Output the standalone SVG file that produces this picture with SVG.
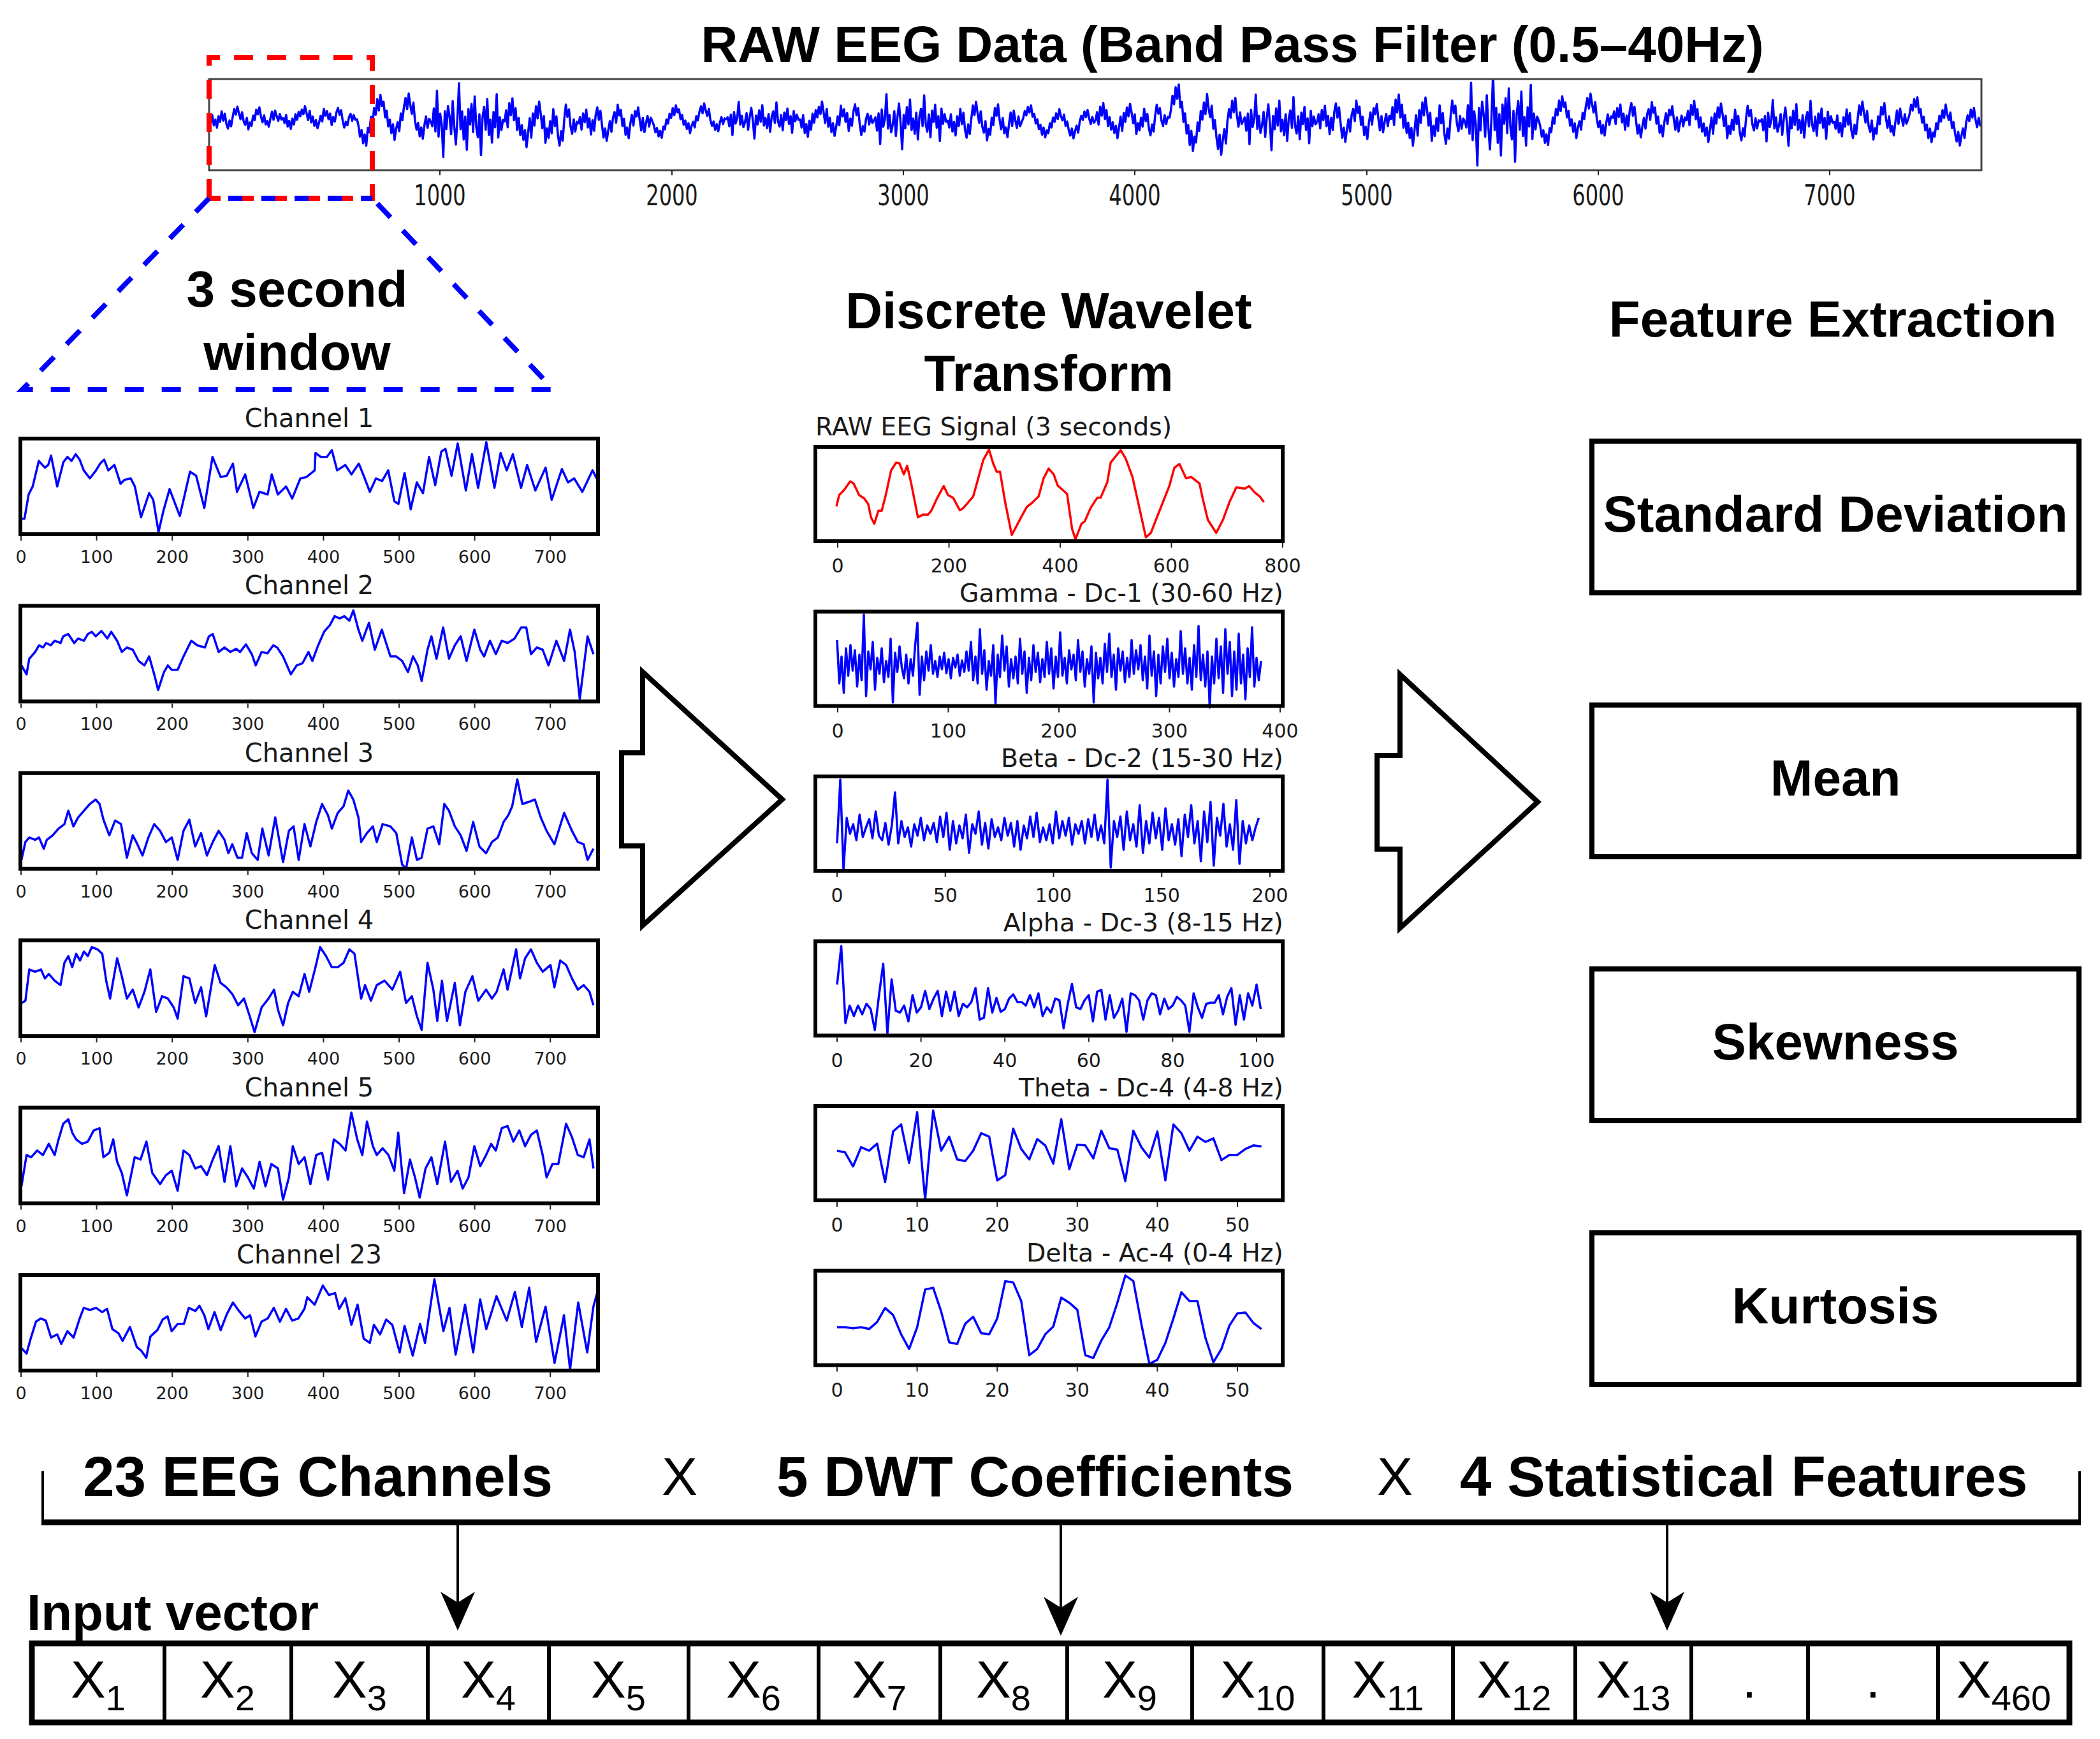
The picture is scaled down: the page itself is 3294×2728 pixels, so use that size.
<svg xmlns="http://www.w3.org/2000/svg" xmlns:xlink="http://www.w3.org/1999/xlink" width="3294" height="2728" viewBox="0 0 3294 2728">
<style>
.b{font-family:"Liberation Sans",Arial,sans-serif;font-weight:bold;fill:#000}
.r{font-family:"Liberation Sans",Arial,sans-serif;font-weight:normal;fill:#000}
.m{font-family:"DejaVu Sans",sans-serif;fill:#1a1a1a}
.frame{fill:none;stroke:#000;stroke-width:6}
.sig{fill:none;stroke:#0000ff;stroke-width:3.5;stroke-linejoin:round;vector-effect:non-scaling-stroke}
.tk{stroke:#222;stroke-width:2}
.fbox{fill:#fff;stroke:#000;stroke-width:8}
.big{fill:#fff;stroke:#000;stroke-width:8;stroke-linejoin:miter}
</style>
<defs>
<clipPath id="topclip"><rect x="329" y="125" width="2778" height="141"/></clipPath>
<path id="s1" class="sig" d="M0,0 L1,4 2,-3 3,6 4,1 5,8 6,-2 7,3 8,-6 9,2 10,-4 11,5 12,9 13,2 14,7 15,-1 16,-8 17,-3 18,-10 19,-4 20,1 21,-5 22,3 23,6 24,0 25,10 26,4 27,7 28,-2 29,2 30,-7 31,-3 32,-9 33,-1 34,4 35,-2 36,6 37,3 38,8 39,1 40,-5 41,2 42,-6 43,-1 44,3 45,-3 46,2 47,0"/>
<path id="s2" class="sig" d="M0,0 L1,-5 2,2 3,-8 4,-3 5,-10 6,-1 7,-6 8,3 9,-2 10,5 11,1 12,7 13,3 14,10 15,4 16,-2 17,6 18,-4 19,1 20,-7 21,-2 22,-9 23,-4 24,2 25,-3 26,8 27,2 28,6 29,-1 30,4 31,-6 32,1 33,-3 34,5 35,9 36,3 37,7 38,-2 39,-8 40,-3 41,-6 42,1 43,4 44,-2 45,3 46,-1 47,0"/>
<path id="s3" class="sig" d="M0,0 L1,3 2,8 3,5 4,11 5,7 6,12 7,4 8,6 9,-1 10,2 11,-5 12,-2 13,-9 14,-4 15,-11 16,-6 17,-8 18,-1 19,-4 20,3 21,0 22,6 23,2 24,9 25,4 26,1 27,5 28,-3 29,0 30,-6 31,-10 32,-5 33,-12 34,-7 35,-3 36,-8 37,0 38,4 39,1 40,7 41,3 42,8 43,2 44,-2 45,3 46,-1 47,0"/>
<path id="s4" class="sig" d="M0,0 L1,-2 2,5 3,-4 4,12 5,-6 6,3 7,-1 8,-14 9,4 10,-3 11,6 12,2 13,-5 14,8 15,-2 16,-9 17,1 18,15 19,-3 20,4 21,-7 22,2 23,-11 24,5 25,-1 26,7 27,-4 28,10 29,-2 30,-6 31,3 32,-13 33,2 34,6 35,-3 36,9 37,-5 38,1 39,-8 40,4 41,-2 42,11 43,-6 44,2 45,-3 46,1 47,0"/>
<rect id="chFrame" class="frame" x="32" y="3" width="906" height="150"/>
<g id="chTicks">
<path class="tk" d="M33,0v7M151.6,0v7M270.2,0v7M388.8,0v7M507.4,0v7M626,0v7M744.6,0v7M863.2,0v7"/>
<g class="m" font-size="27" text-anchor="middle">
<text x="33" y="42">0</text><text x="151.6" y="42">100</text><text x="270.2" y="42">200</text><text x="388.8" y="42">300</text><text x="507.4" y="42">400</text><text x="626" y="42">500</text><text x="744.6" y="42">600</text><text x="863.2" y="42">700</text>
</g>
</g>
<marker id="arr" markerUnits="userSpaceOnUse" viewBox="0 -27 61 54" refX="55" refY="0" markerWidth="61" markerHeight="54" orient="auto">
<path d="M0,-27 L61,0 L0,27 L17,0 Z" fill="#000"/>
</marker>
</defs>
<rect width="3294" height="2728" fill="#fff"/>

<g id="raw-eeg-plot">
<text class="b" x="1933" y="97" font-size="80" text-anchor="middle">RAW EEG Data (Band Pass Filter (0.5–40Hz)</text>
<g clip-path="url(#topclip)">
<use href="#s1" transform="matrix(2.465,-0.0426,0,1.8,328,186)"/>
<use href="#s2" transform="matrix(2.465,0.0426,0,-1.8,443.86,184)"/>
<use href="#s3" transform="matrix(2.465,0.0851,0,3.5,559.72,186)"/>
<use href="#s4" transform="matrix(2.465,0.0426,0,-4,675.58,190)"/>
<use href="#s2" transform="matrix(2.465,0.0638,0,3.8,791.44,192)"/>
<use href="#s1" transform="matrix(2.465,-0.1064,0,-2.8,907.3,195)"/>
<use href="#s3" transform="matrix(2.465,-0.0426,0,2.2,1023.16,190)"/>
<use href="#s4" transform="matrix(2.465,-0.0426,0,2,1139.02,188)"/>
<use href="#s2" transform="matrix(2.465,0.0851,0,-2.8,1254.88,186)"/>
<use href="#s4" transform="matrix(2.465,-0.0426,0,3,1370.74,190)"/>
<use href="#s1" transform="matrix(2.465,0.0851,0,3,1486.6,188)"/>
<use href="#s3" transform="matrix(2.465,-0.0426,0,-2.2,1602.46,192)"/>
<use href="#s2" transform="matrix(2.465,-0.0851,0,2.8,1718.32,190)"/>
<use href="#s3" transform="matrix(2.465,0.0851,0,-4.5,1834.18,186)"/>
<use href="#s4" transform="matrix(2.465,0.0426,0,3,1950.04,190)"/>
<use href="#s1" transform="matrix(2.465,-0.0851,0,-3.2,2065.9,192)"/>
<use href="#s2" transform="matrix(2.465,0.0426,0,4,2181.76,188)"/>
<use href="#s4" transform="matrix(2.465,-0.0426,0,-5,2297.62,190)"/>
<use href="#s3" transform="matrix(2.465,-0.0426,0,3.3,2413.48,188)"/>
<use href="#s1" transform="matrix(2.465,0.0851,0,-2.8,2529.34,186)"/>
<use href="#s2" transform="matrix(2.465,0.0426,0,3.2,2645.2,190)"/>
<use href="#s4" transform="matrix(2.465,-0.0426,0,2.5,2761.06,192)"/>
<use href="#s1" transform="matrix(2.465,-0.0426,0,3,2876.92,190)"/>
<use href="#s3" transform="matrix(2.465,0.1277,0,-3,2992.78,188)"/>
</g>
<rect x="328" y="124" width="2780" height="143" fill="none" stroke="#444" stroke-width="3"/>
<path class="tk" d="M690,267v8M1054,267v8M1417,267v8M1780,267v8M2144,267v8M2507,267v8M2870,267v8"/>
<g transform="translate(0,322) scale(1,1.37)" class="m" font-size="32" text-anchor="middle">
<text x="690" y="0">1000</text><text x="1054" y="0">2000</text><text x="1417" y="0">3000</text><text x="1780" y="0">4000</text><text x="2144" y="0">5000</text><text x="2507" y="0">6000</text><text x="2870" y="0">7000</text>
</g>
</g>

<g id="window-selection">
<path d="M328,311 V90 H584 V311 H328" fill="none" stroke="#ff0000" stroke-width="8" stroke-dasharray="30 22"/>
<path d="M328,311 L35,611 L868,611 L584,311" fill="none" stroke="#0000ff" stroke-width="8" stroke-dasharray="30 28"/>
<path d="M328,311 H584" fill="none" stroke="#0000ff" stroke-width="8" stroke-dasharray="22 30" stroke-dashoffset="-30"/>
<text class="b" x="466" y="481" font-size="80" text-anchor="middle">3 second</text>
<text class="b" x="466" y="580" font-size="80" text-anchor="middle">window</text>
</g>

<g id="channels">
<g id="channel-1">
<text class="m" x="485" y="670" font-size="40" text-anchor="middle">Channel 1</text>
<polyline class="sig" transform="translate(0,380) scale(0.641,0.421)" points="50,1030 60,1030 70,940 80,910 95,815 110,840 118,830 125,795 140,910 155,820 165,800 175,815 185,790 195,810 205,850 220,880 235,850 245,825 255,810 265,850 280,830 295,900 305,885 320,880 330,910 345,1025 365,935 375,960 388,1080 400,1000 415,920 440,1020 465,855 480,870 500,990 520,800 540,875 555,870 570,825 580,930 600,865 620,990 635,930 655,940 665,865 680,940 700,910 715,955 735,880 750,875 770,850 772,785 785,800 800,800 812,775 825,850 845,830 860,865 878,825 890,870 905,930 920,880 935,890 950,850 965,965 975,975 990,860 1005,995 1020,895 1035,935 1050,800 1065,905 1080,780 1090,770 1105,870 1120,750 1140,925 1155,790 1170,915 1190,745 1210,915 1225,785 1240,850 1255,790 1275,915 1290,830 1310,925 1335,840 1350,960 1375,845 1390,895 1405,880 1425,930 1450,850 1460,880"/>
<use href="#chFrame" y="685"/>
<use href="#chTicks" y="841"/>
</g>
<g id="channel-2">
<text class="m" x="485" y="932.4" font-size="40" text-anchor="middle">Channel 2</text>
<polyline class="sig" transform="translate(0,900) scale(0.6124,0.7015)" points="55,205 68,225 75,190 90,175 100,160 110,165 118,155 130,160 140,150 155,155 162,140 175,135 190,155 200,145 215,150 225,135 235,130 245,140 260,128 275,145 285,130 300,150 312,175 325,165 340,170 355,195 370,205 382,185 395,225 405,260 420,220 430,205 440,215 455,215 470,185 490,150 505,160 525,165 535,140 545,135 560,175 575,165 590,175 605,168 615,175 630,158 645,180 655,205 670,175 685,178 700,160 710,165 725,185 745,225 760,205 775,200 790,175 800,195 815,160 830,130 845,115 857,95 870,100 882,95 895,105 905,82 918,125 928,150 945,110 960,170 978,125 1000,185 1015,185 1030,195 1045,220 1058,185 1070,205 1080,240 1095,170 1105,140 1118,190 1135,120 1150,190 1165,160 1180,140 1195,195 1215,125 1230,170 1240,185 1255,150 1270,180 1285,150 1300,155 1318,145 1335,120 1348,120 1360,180 1375,165 1390,170 1405,205 1425,150 1445,195 1460,125 1472,175 1485,280 1505,140 1520,180"/>
<use href="#chFrame" y="947.4"/>
<use href="#chTicks" y="1103.4"/>
</g>
<g id="channel-3">
<text class="m" x="485" y="1194.8" font-size="40" text-anchor="middle">Channel 3</text>
<polyline class="sig" transform="translate(0,900) scale(0.6124,0.7015)" points="55,640 65,600 75,590 90,595 100,590 112,615 120,595 135,585 150,570 165,560 175,530 188,565 200,545 215,530 230,515 245,505 255,515 265,550 280,585 295,552 310,560 325,635 340,585 352,605 365,630 380,590 395,560 410,575 425,600 440,590 455,640 470,575 485,550 500,610 515,580 530,630 545,600 560,575 575,595 585,625 595,605 608,635 620,635 632,580 645,625 660,640 672,570 688,630 705,545 725,645 740,575 752,565 765,640 780,560 795,610 810,555 825,515 840,540 850,570 865,535 880,520 892,485 905,505 918,545 925,600 940,580 955,565 965,600 980,560 1000,565 1015,580 1030,650 1040,660 1055,590 1068,640 1080,635 1095,570 1110,565 1125,605 1138,515 1150,530 1165,565 1180,585 1195,620 1212,555 1228,610 1245,625 1260,600 1275,590 1290,555 1302,540 1312,520 1325,460 1338,515 1355,510 1370,505 1385,545 1400,575 1420,605 1445,535 1465,575 1480,600 1495,605 1505,640 1520,615"/>
<use href="#chFrame" y="1209.8"/>
<use href="#chTicks" y="1365.8"/>
</g>
<g id="channel-4">
<text class="m" x="485" y="1457.2" font-size="40" text-anchor="middle">Channel 4</text>
<polyline class="sig" transform="translate(0,900) scale(0.6124,0.7015)" points="55,960 65,955 75,885 90,890 105,885 115,905 125,895 140,910 155,920 165,870 175,855 185,880 195,850 205,865 215,845 225,855 235,835 250,840 262,850 272,910 282,950 300,860 312,900 325,950 340,930 355,970 370,935 385,885 400,980 415,945 430,950 445,970 455,995 470,900 485,905 500,960 515,925 528,990 550,875 565,915 580,925 595,940 610,965 625,950 638,985 652,1025 670,970 688,950 702,930 712,975 725,1010 738,960 750,935 765,945 780,895 792,935 808,880 820,835 835,855 850,880 865,880 880,870 895,840 908,850 925,950 935,920 950,955 965,920 985,910 1005,930 1025,890 1040,960 1055,945 1068,990 1080,1020 1095,870 1110,930 1120,1000 1132,910 1145,1000 1165,915 1178,1010 1192,935 1210,900 1225,955 1245,930 1260,950 1272,935 1290,885 1300,930 1310,890 1322,840 1332,905 1345,860 1360,840 1375,870 1390,890 1410,875 1420,925 1435,865 1450,875 1465,905 1480,930 1495,920 1510,935 1520,965"/>
<use href="#chFrame" y="1472.2"/>
<use href="#chTicks" y="1628.2"/>
</g>
<g id="channel-5">
<text class="m" x="485" y="1719.6" font-size="40" text-anchor="middle">Channel 5</text>
<polyline class="sig" transform="translate(0,900) scale(0.6124,0.7015)" points="55,1370 68,1300 80,1305 95,1290 110,1300 125,1275 140,1300 150,1265 162,1230 175,1220 185,1250 195,1265 210,1275 225,1270 240,1245 255,1240 265,1305 280,1295 290,1265 300,1315 312,1340 325,1390 345,1305 360,1310 375,1270 390,1340 410,1365 425,1345 440,1335 455,1380 470,1290 485,1300 500,1330 515,1325 530,1345 545,1310 560,1280 575,1360 590,1280 605,1370 620,1330 635,1350 650,1375 665,1315 680,1370 695,1320 712,1330 725,1400 740,1350 750,1280 765,1320 780,1305 795,1365 810,1300 825,1295 840,1355 855,1265 870,1275 885,1290 900,1205 915,1265 928,1300 940,1225 955,1280 965,1300 980,1285 995,1300 1010,1335 1020,1250 1035,1385 1050,1310 1063,1350 1075,1395 1090,1330 1105,1305 1120,1365 1140,1270 1155,1360 1172,1335 1185,1375 1200,1350 1215,1280 1230,1325 1245,1300 1258,1275 1270,1290 1285,1240 1300,1235 1315,1270 1330,1245 1345,1280 1360,1255 1375,1245 1390,1300 1400,1350 1415,1320 1430,1320 1450,1230 1465,1260 1480,1300 1495,1305 1510,1265 1520,1330"/>
<use href="#chFrame" y="1734.6"/>
<use href="#chTicks" y="1890.6"/>
</g>
<g id="channel-23">
<text class="m" x="485" y="1982" font-size="40" text-anchor="middle">Channel 23</text>
<polyline class="sig" transform="translate(0,1900) scale(0.641,0.3333)" points="50,640 65,670 75,600 88,520 100,505 112,515 125,595 140,580 150,625 165,565 180,595 195,505 205,455 220,465 235,455 250,475 262,460 275,555 290,575 300,610 318,545 335,640 345,655 358,690 368,590 385,560 398,510 410,495 420,565 435,530 450,530 462,455 478,470 488,445 500,490 510,555 525,475 540,560 555,485 570,430 585,470 600,505 612,490 625,590 640,520 655,505 670,455 685,520 700,460 715,515 730,505 745,460 752,405 770,440 790,350 805,395 820,385 830,460 845,410 860,535 875,440 890,600 905,620 915,535 930,580 945,510 960,535 978,665 990,540 1010,680 1028,530 1040,620 1063,320 1085,565 1100,455 1115,675 1138,440 1158,665 1175,415 1190,555 1215,400 1240,515 1260,380 1277,545 1295,360 1312,615 1335,450 1357,715 1380,490 1395,745 1415,430 1437,665 1452,450 1462,380"/>
<use href="#chFrame" y="1997"/>
<use href="#chTicks" y="2153"/>
</g>
</g>

<g id="dwt">
<text class="b" x="1645" y="515" font-size="80" text-anchor="middle">Discrete Wavelet</text>
<text class="b" x="1645" y="613" font-size="80" text-anchor="middle">Transform</text>
<g id="dwt-raw">
<text class="m" x="1279" y="683" font-size="39.5">RAW EEG Signal (3 seconds)</text>
<polyline fill="none" stroke="#ff0000" stroke-width="3.5" stroke-linejoin="round" vector-effect="non-scaling-stroke" transform="translate(1240,640) scale(0.5258,0.4082)" points="137,378 145,335 160,315 178,282 188,290 205,335 220,348 232,370 240,420 250,445 262,395 272,395 285,330 300,240 315,210 325,213 338,255 348,222 360,290 380,420 395,410 410,410 420,395 438,345 457,300 470,335 485,345 505,393 515,385 545,340 560,270 575,200 592,160 605,215 615,245 625,245 640,360 660,488 690,415 705,380 720,365 740,340 755,270 770,233 785,255 797,298 810,313 825,330 840,465 850,505 868,445 878,435 895,385 915,345 925,345 945,285 955,210 985,162 1000,195 1020,265 1040,380 1060,497 1075,480 1090,430 1110,365 1130,300 1145,230 1160,215 1180,270 1195,265 1205,275 1220,290 1230,350 1245,430 1270,480 1290,430 1310,360 1330,305 1355,310 1368,300 1385,325 1400,340 1412,362"/>
<rect class="frame" x="1279" y="701" width="733" height="148"/>
<path class="tk" d="M1314,852v7M1488.5,852v7M1663,852v7M1837.5,852v7M2012,852v7"/>
<g class="m" font-size="30" text-anchor="middle"><text x="1314" y="898">0</text><text x="1488.5" y="898">200</text><text x="1663" y="898">400</text><text x="1837.5" y="898">600</text><text x="2012" y="898">800</text></g>
</g>
<g id="dwt-gamma">
<text class="m" x="2013" y="944" font-size="39.5" text-anchor="end">Gamma - Dc-1 (30-60 Hz)</text>
<polyline class="sig" transform="translate(1313,1042) scale(3.5,1)" points="0,-38 1,30 2,-12 3,45 4,-25 5,18 6,-30 7,10 8,-22 9,35 10,-15 11,25 12,-78 13,50 14,-20 15,8 16,-35 17,40 18,-10 19,15 20,-25 21,28 22,-5 23,20 24,-40 25,60 26,-18 27,12 28,-28 29,5 30,22 31,-15 32,30 33,-8 34,18 35,-30 36,-65 37,48 38,-12 39,25 40,-20 41,10 42,-30 43,15 44,-5 45,20 46,-12 47,8 48,-18 49,14 50,-8 51,22 52,-10 53,5 54,-15 55,18 56,-6 57,12 58,-20 59,10 60,-35 61,25 62,-12 63,30 64,-55 65,15 66,-22 67,40 68,-5 69,18 70,-30 71,62 72,-15 73,20 74,-45 75,10 76,-28 77,35 78,-8 79,22 80,-12 81,30 82,-40 83,15 84,-20 85,45 86,-10 87,25 88,-30 89,12 90,-18 91,28 92,-8 93,20 94,-35 95,15 96,-25 97,38 98,-12 99,20 100,-50 101,18 102,-10 103,30 104,-22 105,8 106,-15 107,25 108,-38 109,12 110,-20 111,35 112,-8 113,15 114,-28 115,60 116,-18 117,22 118,-10 119,30 120,-32 121,12 122,-48 123,20 124,-15 125,40 126,-25 127,10 128,-20 129,28 130,-10 131,20 132,-38 133,15 134,-22 135,8 136,-30 137,25 138,-12 139,38 140,-45 141,18 142,-20 143,50 144,-15 145,30 146,-28 147,12 148,-40 149,22 150,-18 151,35 152,-8 153,20 154,-52 155,15 156,-25 157,30 158,-10 159,40 160,-30 161,20 162,-60 163,25 164,-15 165,35 166,-20 167,68 168,-12 169,30 170,-40 171,22 172,-28 173,45 174,-55 175,15 176,-35 177,50 178,-20 179,40 180,-48 181,30 182,-15 183,55 184,-25 185,20 186,-58 187,35 188,-10 189,25 190,-5"/>
<rect class="frame" x="1279" y="959.5" width="733" height="148"/>
<path class="tk" d="M1314,1110.5v7M1487.5,1110.5v7M1661,1110.5v7M1834.5,1110.5v7M2008,1110.5v7"/>
<g class="m" font-size="30" text-anchor="middle"><text x="1314" y="1156.5">0</text><text x="1487.5" y="1156.5">100</text><text x="1661" y="1156.5">200</text><text x="1834.5" y="1156.5">300</text><text x="2008" y="1156.5">400</text></g>
</g>
<g id="dwt-beta">
<text class="m" x="2013" y="1203" font-size="39.5" text-anchor="end">Beta - Dc-2 (15-30 Hz)</text>
<polyline class="sig" transform="translate(1313,1303) scale(5.05,1)" points="0,20 1,-80 2,62 3,-20 4,5 5,-10 6,15 7,-25 8,10 9,-5 10,-18 11,12 12,-30 13,8 14,15 15,-12 16,22 17,-8 18,-60 19,20 20,-15 21,10 22,-5 23,25 24,-10 25,8 26,-20 27,15 28,-8 29,5 30,-12 31,18 32,-22 33,10 34,-28 35,30 36,-15 37,20 38,-8 39,12 40,-25 41,35 42,-10 43,5 44,-30 45,22 46,-12 47,28 48,-18 49,10 50,-5 51,15 52,-20 53,8 54,-12 55,25 56,-15 57,30 58,-8 59,12 60,-22 61,10 62,-28 63,18 64,-5 65,15 66,-10 67,20 68,-30 69,12 70,-15 71,8 72,-20 73,22 74,-10 75,5 76,-15 77,20 78,-18 79,10 80,-25 81,15 82,-8 83,20 84,-80 85,58 86,-15 87,10 88,-22 89,30 90,-30 91,15 92,-10 93,25 94,-40 95,35 96,-15 97,20 98,-28 99,12 100,-20 101,30 102,-35 103,15 104,-10 105,22 106,-18 107,40 108,-25 109,10 110,-40 111,20 112,-15 113,48 114,-30 115,18 116,-45 117,55 118,-20 119,8 120,-42 121,25 122,-10 123,30 124,-48 125,52 126,-15 127,20 128,-8 129,15 130,-5 131,-20"/>
<rect class="frame" x="1279" y="1218" width="733" height="148"/>
<path class="tk" d="M1313,1369v7M1482.75,1369v7M1652.5,1369v7M1822.25,1369v7M1992,1369v7"/>
<g class="m" font-size="30" text-anchor="middle"><text x="1313" y="1415">0</text><text x="1482.75" y="1415">50</text><text x="1652.5" y="1415">100</text><text x="1822.25" y="1415">150</text><text x="1992" y="1415">200</text></g>
</g>
<g id="dwt-alpha">
<text class="m" x="2013" y="1461" font-size="39.5" text-anchor="end">Alpha - Dc-3 (8-15 Hz)</text>
<polyline class="sig" transform="translate(1313,1380) scale(6.58,0.5485)" points="0,300 1,190 2,410 3,360 4,390 5,360 6,385 7,355 8,370 9,430 10,330 11,240 12,440 13,285 14,375 15,380 16,360 17,405 18,330 19,380 20,365 21,318 22,370 23,340 24,318 25,390 26,320 27,375 28,320 29,390 30,355 31,365 32,350 33,310 34,400 35,395 36,310 37,380 38,338 39,378 40,370 41,340 42,328 43,350 44,350 45,360 46,330 47,365 48,325 49,390 50,365 51,380 52,340 53,345 54,425 55,355 56,298 57,365 58,370 59,345 60,330 61,405 62,320 63,315 64,400 65,330 66,395 67,375 68,340 69,435 70,325 71,330 72,345 73,400 74,345 75,325 76,330 77,385 78,340 79,370 80,360 81,335 82,345 83,360 84,435 85,325 86,365 87,395 88,355 89,352 90,352 91,330 92,385 93,335 94,310 95,415 96,330 97,400 98,325 99,360 100,300 101,370"/>
<rect class="frame" x="1279" y="1476.5" width="733" height="148"/>
<path class="tk" d="M1313,1627.5v7M1444.6,1627.5v7M1576.2,1627.5v7M1707.8,1627.5v7M1839.4,1627.5v7M1971,1627.5v7"/>
<g class="m" font-size="30" text-anchor="middle"><text x="1313" y="1673.5">0</text><text x="1444.6" y="1673.5">20</text><text x="1576.2" y="1673.5">40</text><text x="1707.8" y="1673.5">60</text><text x="1839.4" y="1673.5">80</text><text x="1971" y="1673.5">100</text></g>
</g>
<g id="dwt-theta">
<text class="m" x="2013" y="1720" font-size="39.5" text-anchor="end">Theta - Dc-4 (4-8 Hz)</text>
<polyline class="sig" transform="translate(1313,1380) scale(12.56,0.5485)" points="0,775 1,780 2,820 3,765 4,775 5,755 6,865 7,720 8,700 9,810 10,665 11,915 12,660 13,775 14,735 15,800 16,805 17,775 18,725 19,735 20,860 21,845 22,712 23,770 24,800 25,742 26,760 27,812 28,685 29,828 30,758 31,760 32,797 33,718 34,768 35,772 36,862 37,718 38,765 39,795 40,720 41,860 42,700 43,725 44,775 45,735 46,750 47,740 48,802 49,787 50,787 51,770 52,760 53,763"/>
<rect class="frame" x="1279" y="1735" width="733" height="148"/>
<path class="tk" d="M1313,1886v7M1438.6,1886v7M1564.2,1886v7M1689.8,1886v7M1815.4,1886v7M1941,1886v7"/>
<g class="m" font-size="30" text-anchor="middle"><text x="1313" y="1932">0</text><text x="1438.6" y="1932">10</text><text x="1564.2" y="1932">20</text><text x="1689.8" y="1932">30</text><text x="1815.4" y="1932">40</text><text x="1941" y="1932">50</text></g>
</g>
<g id="dwt-delta">
<text class="m" x="2013" y="1979" font-size="39.5" text-anchor="end">Delta - Ac-4 (0-4 Hz)</text>
<polyline class="sig" transform="translate(1313,1380) scale(12.56,0.5485)" points="0,1280 1,1280 2,1283 3,1280 4,1285 5,1265 6,1225 7,1245 8,1300 9,1342 10,1280 11,1172 12,1167 13,1235 14,1323 15,1328 16,1270 17,1250 18,1297 19,1300 20,1255 21,1148 22,1152 23,1205 24,1360 25,1342 26,1300 27,1278 28,1195 29,1210 30,1230 31,1360 32,1368 33,1318 34,1280 35,1210 36,1132 37,1148 38,1270 39,1385 40,1373 41,1325 42,1255 43,1180 44,1205 45,1205 46,1310 47,1380 48,1342 49,1275 50,1240 51,1238 52,1268 53,1285"/>
<rect class="frame" x="1279" y="1993.5" width="733" height="148"/>
<path class="tk" d="M1313,2144.5v7M1438.6,2144.5v7M1564.2,2144.5v7M1689.8,2144.5v7M1815.4,2144.5v7M1941,2144.5v7"/>
<g class="m" font-size="30" text-anchor="middle"><text x="1313" y="2190.5">0</text><text x="1438.6" y="2190.5">10</text><text x="1564.2" y="2190.5">20</text><text x="1689.8" y="2190.5">30</text><text x="1815.4" y="2190.5">40</text><text x="1941" y="2190.5">50</text></g>
</g>
</g>

<g id="features">
<text class="b" x="2875" y="528" font-size="80" text-anchor="middle">Feature Extraction</text>
<g id="feature-sd"><rect class="fbox" x="2497" y="692" width="764" height="238"/><text class="b" x="2879" y="834" font-size="80" text-anchor="middle">Standard Deviation</text></g>
<g id="feature-mean"><rect class="fbox" x="2497" y="1106" width="764" height="238"/><text class="b" x="2879" y="1248" font-size="80" text-anchor="middle">Mean</text></g>
<g id="feature-skewness"><rect class="fbox" x="2497" y="1520" width="764" height="238"/><text class="b" x="2879" y="1662" font-size="80" text-anchor="middle">Skewness</text></g>
<g id="feature-kurtosis"><rect class="fbox" x="2497" y="1934" width="764" height="238"/><text class="b" x="2879" y="2076" font-size="80" text-anchor="middle">Kurtosis</text></g>
</g>

<g id="dimension-bracket">
<text class="b" x="130" y="2347" font-size="89">23 EEG Channels</text>
<text class="r" x="1066" y="2345" font-size="84" text-anchor="middle">X</text>
<text class="b" x="1218" y="2347" font-size="89">5 DWT Coefficients</text>
<text class="r" x="2188" y="2345" font-size="84" text-anchor="middle">X</text>
<text class="b" x="2290" y="2347" font-size="89">4 Statistical Features</text>
<path d="M67,2308 V2390 M3262,2308 V2390" stroke="#000" stroke-width="4" fill="none"/>
<path d="M65,2388 H3264" stroke="#000" stroke-width="9" fill="none"/>
</g>

<g id="connectors">
<polygon class="big" points="1008,1054 1227,1254 1008,1452 1008,1327 975,1327 975,1181 1008,1181"/>
<polygon class="big" points="2196,1058 2412,1258 2196,1456 2196,1332 2160,1332 2160,1185 2196,1185"/>
<line x1="718" y1="2392" x2="718" y2="2552" stroke="#000" stroke-width="4" marker-end="url(#arr)"/>
<line x1="1664" y1="2392" x2="1664" y2="2560" stroke="#000" stroke-width="4" marker-end="url(#arr)"/>
<line x1="2615" y1="2392" x2="2615" y2="2552" stroke="#000" stroke-width="4" marker-end="url(#arr)"/>
</g>

<g id="input-vector">
<text class="b" x="42" y="2557" font-size="80">Input vector</text>
<rect x="50" y="2578" width="3196" height="124" fill="#fff" stroke="#000" stroke-width="9"/>
<path d="M258,2578V2702M457,2578V2702M671,2578V2702M861,2578V2702M1080,2578V2702M1284,2578V2702M1475,2578V2702M1674,2578V2702M1870,2578V2702M2076,2578V2702M2279,2578V2702M2471,2578V2702M2653,2578V2702M2836,2578V2702M3040,2578V2702" stroke="#000" stroke-width="6"/>
<g class="r" font-size="82" text-anchor="middle">
<text x="154" y="2663">X<tspan font-size="56" dy="20">1</tspan></text>
<text x="357" y="2663">X<tspan font-size="56" dy="20">2</tspan></text>
<text x="564" y="2663">X<tspan font-size="56" dy="20">3</tspan></text>
<text x="766" y="2663">X<tspan font-size="56" dy="20">4</tspan></text>
<text x="970" y="2663">X<tspan font-size="56" dy="20">5</tspan></text>
<text x="1182" y="2663">X<tspan font-size="56" dy="20">6</tspan></text>
<text x="1379" y="2663">X<tspan font-size="56" dy="20">7</tspan></text>
<text x="1574" y="2663">X<tspan font-size="56" dy="20">8</tspan></text>
<text x="1772" y="2663">X<tspan font-size="56" dy="20">9</tspan></text>
<text x="1973" y="2663">X<tspan font-size="56" dy="20">10</tspan></text>
<text x="2177" y="2663">X<tspan font-size="56" dy="20">11</tspan></text>
<text x="2375" y="2663">X<tspan font-size="56" dy="20">12</tspan></text>
<text x="2562" y="2663">X<tspan font-size="56" dy="20">13</tspan></text>
<text x="2744" y="2663">.</text>
<text x="2938" y="2663">.</text>
<text x="3143" y="2663">X<tspan font-size="56" dy="20">460</tspan></text>
</g>
</g>
</svg>
